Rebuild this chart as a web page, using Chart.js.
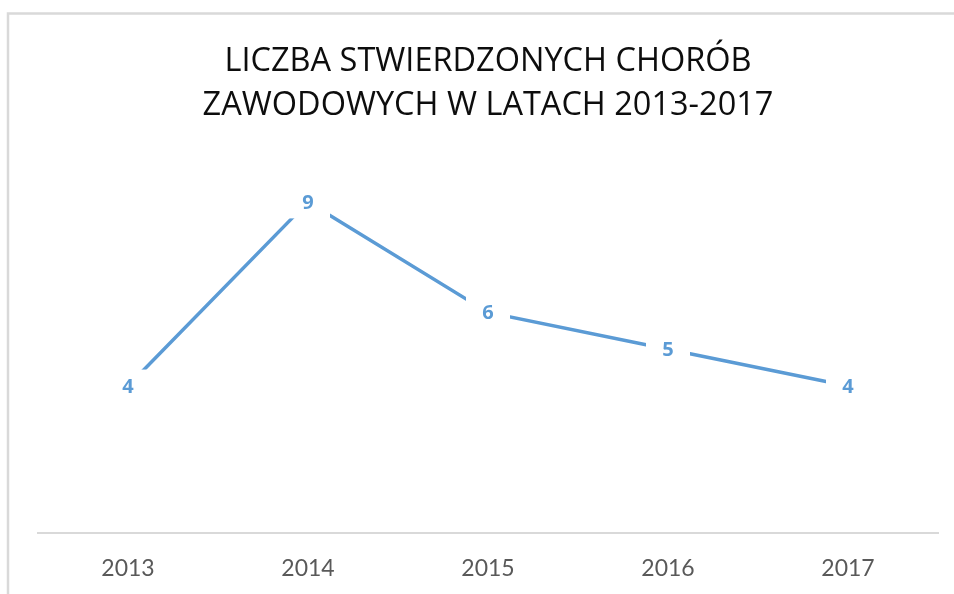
<!DOCTYPE html>
<html>
<head>
<meta charset="utf-8">
<script src="https://cdn.jsdelivr.net/npm/chart.js@4"></script>
<style>
    html, body { margin: 0; padding: 0; background: #fff; }
    #wrap { width: 954px; height: 594px; position: relative; }
</style>
</head>
<body>
<div id="wrap"><canvas id="wykres"></canvas></div>
<script>
// lata i liczba stwierdzonych chorób zawodowych
const lata = ['2013', '2014', '2015', '2016', '2017'];
const liczbaChorob = [4, 9, 6, 5, 4];
const tytul = ['LICZBA STWIERDZONYCH CHORÓB', 'ZAWODOWYCH W LATACH 2013-2017'];

const niebieski = '#5b9bd5';

// ramka wykresu (szara linia u góry i z lewej)
const ramka = {
    id: 'ramka',
    beforeDraw: (chart) => {
        const ctx = chart.ctx;
        ctx.save();
        ctx.fillStyle = '#fff';
        ctx.fillRect(0, 0, chart.width, chart.height);
        ctx.strokeStyle = '#d9d9d9';
        ctx.lineWidth = 2.5;
        ctx.strokeRect(8, 13.5, 2000, 2000);
        ctx.restore();
    }
};

// etykiety wartości z białym tłem, które przerywa linię
const etykiety = {
    id: 'etykiety',
    afterDatasetsDraw: (chart) => {
        const ctx = chart.ctx;
        const meta = chart.getDatasetMeta(0);
        ctx.save();
        ctx.font = 'bold 20px "Open Sans"';
        ctx.textAlign = 'center';
        ctx.textBaseline = 'middle';
        meta.data.forEach((pt, i) => {
            ctx.fillStyle = '#fff';
            ctx.fillRect(pt.x - 22, pt.y - 16.5, 44, 33);
            ctx.fillStyle = niebieski;
            ctx.fillText(String(liczbaChorob[i]), pt.x, pt.y + 1);
        });
        ctx.restore();
    }
};

var ctx = document.getElementById('wykres').getContext('2d');
var wykres = new Chart(ctx, {
    type: 'line',
    data: {
        labels: lata,
        datasets: [{
            label: 'Liczba chorób',
            data: liczbaChorob,
            borderColor: niebieski,
            borderWidth: 3.5,
            pointRadius: 0,
            tension: 0,
            fill: false
        }]
    },
    options: {
        responsive: true,
        maintainAspectRatio: false,
        animation: false,
        layout: {
            padding: { left: 38, right: 16, top: 0, bottom: 0 }
        },
        plugins: {
            legend: { display: false },
            tooltip: { enabled: false },
            title: {
                display: true,
                text: tytul,
                color: '#0d0d0d',
                font: { family: 'Open Sans', size: 32.5, weight: 'normal', lineHeight: 1.37 },
                padding: { top: 39, bottom: 37 }
            }
        },
        scales: {
            x: {
                offset: true,
                grid: { display: false, tickLength: 9 },
                border: { display: true, color: '#d9d9d9', width: 2 },
                ticks: {
                    color: '#595959',
                    font: { family: 'Lato', size: 23 },
                    padding: 12
                }
            },
            y: {
                display: false,
                min: 0,
                max: 10
            }
        }
    },
    plugins: [ramka, etykiety]
});
</script>
</body>
</html>
